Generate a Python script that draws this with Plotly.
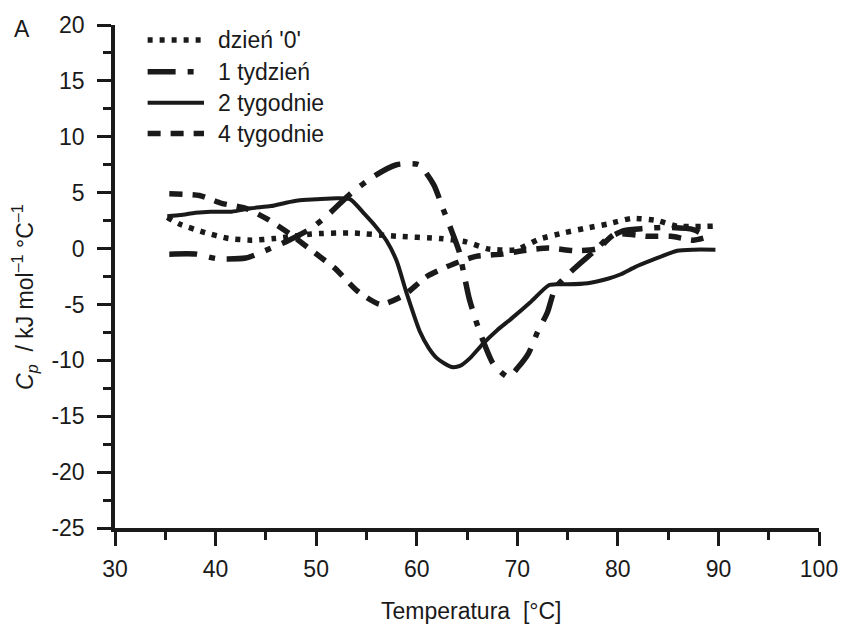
import plotly.graph_objects as go

# --- data: heat capacity curves vs. temperature ---
temp_day0 = [35.2, 36.4, 38.7, 41.3, 43.6, 45.9, 49.5, 53.4, 58.0, 62.3, 64.9, 67.2,
             69.9, 72.2, 74.6, 76.7, 79.0, 81.4, 83.9, 85.9, 89.5]
cp_day0 = [2.8, 2.2, 1.5, 0.9, 0.75, 0.9, 1.3, 1.4, 1.1, 0.9, 0.6, -0.05,
           -0.1, 0.85, 1.4, 1.8, 2.2, 2.7, 2.5, 2.0, 2.0]

temp_week1 = [35.4, 38.1, 40.1, 43.0, 44.9, 47.2, 49.5, 51.4, 53.4, 55.8, 58.0, 60.2,
              61.7, 62.6, 63.4, 64.2, 64.7, 65.2, 65.9, 66.6, 67.6, 69.1, 70.1, 71.1,
              72.0, 73.0, 73.8, 75.9, 77.7, 78.9, 80.6, 82.6, 84.6, 87.5, 88.8]
cp_week1 = [-0.5, -0.5, -0.9, -0.85, -0.2, 0.7, 1.8, 3.2, 4.9, 6.5, 7.5, 7.5,
            5.7, 3.6, 1.75, -0.2, -2.3, -4.4, -6.5, -8.25, -10.3, -11.5, -10.6, -9.4,
            -7.5, -5.7, -3.5, -1.6, -0.2, 0.85, 1.6, 1.8, 1.9, 1.7, 1.1]

temp_week2 = [35.2, 36.5, 38.0, 39.5, 41.6, 43.5, 45.5, 47.0, 48.2, 50.0, 52.1, 53.4,
              54.8, 55.9, 57.0, 58.0, 59.0, 60.3, 61.2, 62.0, 62.8, 63.5, 64.3, 65.3,
              66.6, 68.0, 69.5, 71.3, 73.1, 74.0, 75.0, 77.0, 79.0, 80.3, 81.6, 83.5,
              85.9, 87.5, 89.7]
cp_week2 = [2.9, 3.0, 3.2, 3.3, 3.3, 3.6, 3.8, 4.1, 4.3, 4.4, 4.5, 4.4,
            3.1, 2.0, 0.7, -1.1, -4.0, -7.4, -8.9, -9.8, -10.3, -10.6, -10.5, -9.8,
            -8.5, -7.3, -6.2, -4.8, -3.3, -3.2, -3.2, -3.1, -2.7, -2.3, -1.7, -1.0,
            -0.2, -0.1, -0.1]

temp_week4 = [35.4, 38.4, 40.6, 43.0, 45.2, 47.4, 49.9, 51.9, 54.1, 56.4, 58.7, 61.0,
              63.6, 65.9, 68.5, 70.5, 73.1, 75.8, 78.0, 79.7, 82.9, 85.3, 87.5, 88.8]
cp_week4 = [4.9, 4.75, 4.05, 3.6, 2.6, 1.3, -0.4, -1.8, -3.8, -5.0, -4.2, -2.5,
            -1.4, -0.7, -0.5, -0.2, 0.05, -0.2, 0.0, 1.3, 1.1, 1.1, 0.75, 1.0]

series_names = ["dzień '0'", "1 tydzień", "2 tygodnie", "4 tygodnie"]

x_ticks = [30, 40, 50, 60, 70, 80, 90, 100]
y_ticks = [-25, -20, -15, -10, -5, 0, 5, 10, 15, 20]
y_tick_labels = [str(v) for v in y_ticks]

# --- styling ---
INK = "#1a1a1a"
FONT = "Liberation Sans, Arial, Helvetica, sans-serif"
FS = 23
styles = [
    dict(dash="5px,7px", width=5.5),
    dict(dash="28px,12px,6px,12px", width=5.5),
    dict(dash="solid", width=4),
    dict(dash="13px,10px", width=5.5),
]

W, H = 850, 626
L, R, T, B = 115, 23, 23, 98
PW, PH = W - L - R, H - T - B


def px_to_paper(px, py):
    return (px - L) / PW, (H - B - py) / PH


fig = go.Figure()
for name, xs, ys, st in zip(series_names,
                            [temp_day0, temp_week1, temp_week2, temp_week4],
                            [cp_day0, cp_week1, cp_week2, cp_week4],
                            styles):
    fig.add_trace(go.Scatter(
        x=xs, y=ys, mode="lines", name=name, showlegend=False,
        line=dict(color=INK, width=st["width"], dash=st["dash"],
                  shape="spline", smoothing=0.6),
    ))

# legend drawn as line samples + labels in the upper-left corner
shapes = []
annotations = []
row_y = [38, 70, 101, 132]
for name, st, ry in zip(series_names, styles, row_y):
    x0, y0 = px_to_paper(148, ry)
    x1, _ = px_to_paper(205, ry)
    shapes.append(dict(type="line", xref="paper", yref="paper",
                       x0=x0, x1=x1, y0=y0, y1=y0,
                       line=dict(color=INK, width=st["width"], dash=st["dash"])))
    tx, _ = px_to_paper(217, ry)
    annotations.append(dict(xref="paper", yref="paper", x=tx, y=y0,
                            xanchor="left", yanchor="middle", showarrow=False,
                            text=name, font=dict(size=FS, color=INK, family=FONT)))

# axis titles and panel letter
ax, ay = px_to_paper(23, 296)
annotations.append(dict(xref="paper", yref="paper", x=ax, y=ay, textangle=-90,
                        xanchor="center", yanchor="middle", showarrow=False,
                        text="<i>C<sub>p</sub></i>  / kJ mol<sup>–1</sup> °C<sup>–1</sup>",
                        font=dict(size=FS, color=INK, family=FONT)))
bx, by = px_to_paper(476, 611)
annotations.append(dict(xref="paper", yref="paper", x=bx, y=by,
                        xanchor="center", yanchor="middle", showarrow=False,
                        text="Temperatura  [°C]",
                        font=dict(size=FS, color=INK, family=FONT)))
lx, ly = px_to_paper(21, 27)
annotations.append(dict(xref="paper", yref="paper", x=lx, y=ly,
                        xanchor="center", yanchor="middle", showarrow=False,
                        text="A", font=dict(size=FS, color=INK, family=FONT)))

axis_common = dict(
    showline=True, linecolor=INK, linewidth=3.5,
    ticks="outside", ticklen=14, tickwidth=3, tickcolor=INK,
    showgrid=False, zeroline=False,
    tickfont=dict(size=FS, color=INK, family=FONT),
)

fig.update_layout(
    width=W, height=H,
    margin=dict(l=L, r=R, t=T, b=B),
    paper_bgcolor="white", plot_bgcolor="white",
    xaxis=dict(range=[30, 100], tickmode="array", tickvals=x_ticks,
               ticktext=[str(v) for v in x_ticks], ticklabelstandoff=4,
               minor=dict(tickmode="linear", tick0=35, dtick=10, ticks="outside",
                          ticklen=8, tickwidth=3, tickcolor=INK, showgrid=False),
               **axis_common),
    yaxis=dict(range=[-25, 20], tickmode="array", tickvals=y_ticks,
               ticktext=y_tick_labels, ticklabelstandoff=8,
               minor=dict(tickmode="linear", tick0=-22.5, dtick=5, ticks="outside",
                          ticklen=8, tickwidth=3, tickcolor=INK, showgrid=False),
               **axis_common),
    shapes=shapes,
    annotations=annotations,
)

fig.write_html("out.html")
